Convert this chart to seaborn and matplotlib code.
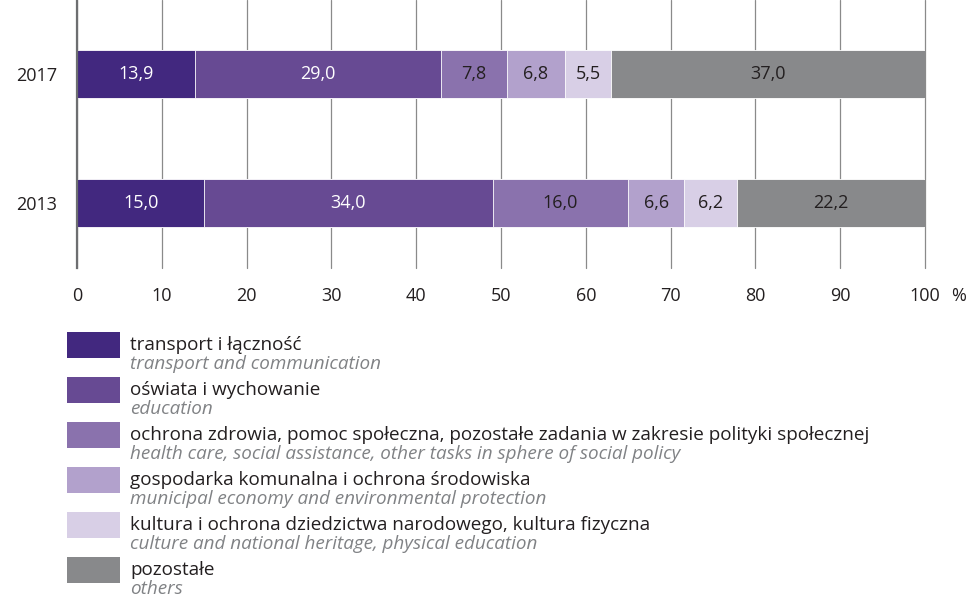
import numpy as np
import pandas as pd
import matplotlib
matplotlib.use("Agg")
import matplotlib.pyplot as plt
from matplotlib.patches import Rectangle
import seaborn as sns

# Structure of expenditure by year (%)
years = ["2017", "2013"]
categories_pl = [
    "transport i łączność",
    "oświata i wychowanie",
    "ochrona zdrowia, pomoc społeczna, pozostałe zadania w zakresie polityki społecznej",
    "gospodarka komunalna i ochrona środowiska",
    "kultura i ochrona dziedzictwa narodowego, kultura fizyczna",
    "pozostałe",
]
categories_en = [
    "transport and communication",
    "education",
    "health care, social assistance, other tasks in sphere of social policy",
    "municipal economy and environmental protection",
    "culture and national heritage, physical education",
    "others",
]
values_2017 = [13.9, 29.0, 7.8, 6.8, 5.5, 37.0]
values_2013 = [15.0, 34.0, 16.0, 6.6, 6.2, 22.2]
x_ticks = [0, 10, 20, 30, 40, 50, 60, 70, 80, 90, 100]

colors = ["#42287f", "#674a93", "#8a72ad", "#b2a1cc", "#d8cfe6", "#88898b"]
label_colors = ["white", "white", "#231f20", "#231f20", "#231f20", "#231f20"]

sns.set_theme(style="white")
plt.rcParams["font.family"] = ["Open Sans", "DejaVu Sans"]

values = pd.DataFrame({"2017": values_2017, "2013": values_2013}, index=categories_pl)
cum = values.cumsum()

W, H = 972, 599
fig = plt.figure(figsize=(W / 100, H / 100), dpi=100)
ax = fig.add_axes([77 / W, 1 - 268 / H, (925 - 77) / W, 268 / H])

bar_h = 48 / 129
# Stacked bars: draw cumulative totals from the outermost segment inward
for i in range(len(categories_pl) - 1, -1, -1):
    df = pd.DataFrame({"year": years, "cum": [cum.loc[categories_pl[i], y] for y in years]})
    sns.barplot(data=df, x="cum", y="year", order=years, orient="h",
                color=colors[i], saturation=1, width=bar_h,
                edgecolor="white", linewidth=0.6, ax=ax, zorder=3)

# Segment value labels
for j, y in enumerate(years):
    start = 0.0
    for i, cat in enumerate(categories_pl):
        v = values.loc[cat, y]
        ax.text(start + v / 2, j, f"{v:.1f}".replace(".", ","),
                ha="center", va="center", fontsize=13, color=label_colors[i], zorder=5)
        start += v

ax.set_xlim(0, 100)
ax.set_ylim(1 + 65 / 129, -74 / 129)
ax.set_xticks(x_ticks)
ax.set_xticklabels([str(t) for t in x_ticks])
ax.set_xlabel("")
ax.set_ylabel("")
ax.tick_params(axis="x", length=0, pad=14, labelsize=13, labelcolor="#231f20")
ax.tick_params(axis="y", length=0, pad=14, labelsize=13, labelcolor="#231f20")

ax.grid(axis="x", color="#8a8a8a", linewidth=0.9, zorder=0)
ax.grid(axis="y", visible=False)
ax.set_axisbelow(True)
for gl in ax.get_xgridlines():
    gl.set_clip_on(False)
for side in ["top", "right", "bottom"]:
    ax.spines[side].set_visible(False)
ax.spines["left"].set_color("#6d6e70")
ax.spines["left"].set_linewidth(1.6)
ax.spines["left"].set_zorder(4)

fig.text(959 / W, 1 - 296 / H, "%", ha="center", va="center", fontsize=13, color="#231f20")

# Two-language legend
y0 = 332
for i in range(len(categories_pl)):
    top = y0 + i * 45
    fig.add_artist(Rectangle((67 / W, 1 - (top + 26) / H), 53 / W, 26 / H,
                             transform=fig.transFigure, facecolor=colors[i], edgecolor="none"))
    fig.text(130 / W, 1 - (top + 13) / H, categories_pl[i], ha="left", va="center",
             fontsize=13.6, color="#231f20")
    fig.text(130 / W, 1 - (top + 32) / H, categories_en[i], ha="left", va="center",
             fontsize=13.6, color="#808285", style="italic")

fig.savefig("out.png", dpi=100)
